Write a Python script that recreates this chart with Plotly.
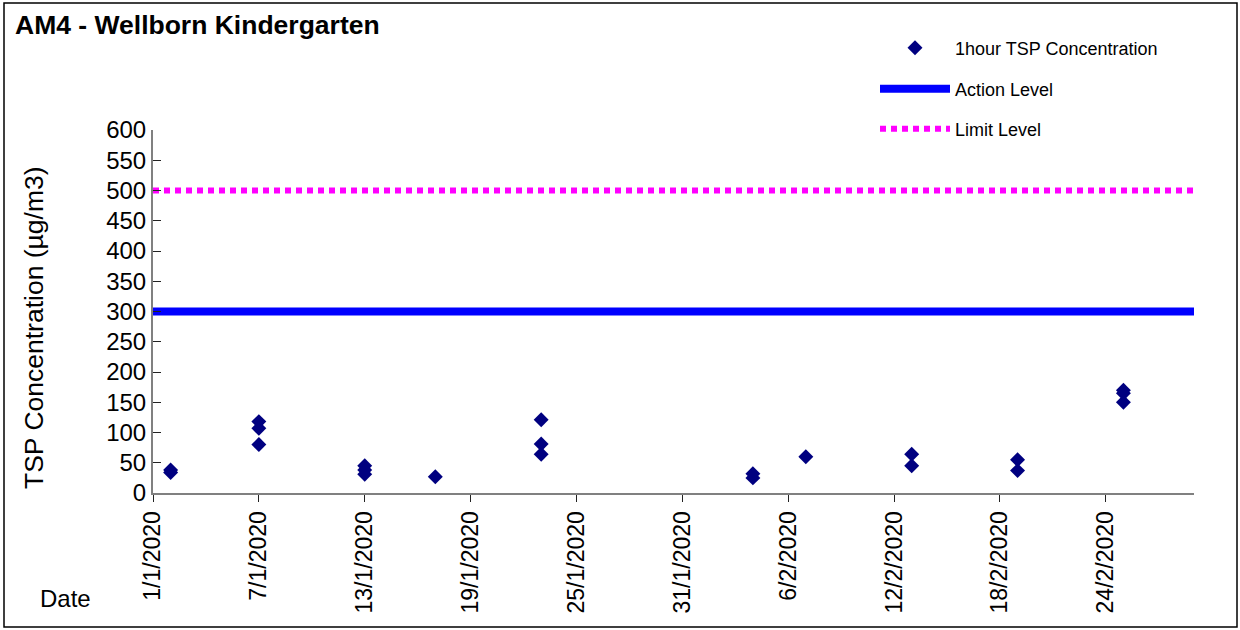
import plotly.graph_objects as go

# 1 hour TSP readings at AM4 (date, value in ug/m3)
sample_dates = [
    "2020-01-02", "2020-01-02",
    "2020-01-07", "2020-01-07", "2020-01-07",
    "2020-01-13", "2020-01-13", "2020-01-13",
    "2020-01-17",
    "2020-01-23", "2020-01-23", "2020-01-23",
    "2020-02-04", "2020-02-04",
    "2020-02-07",
    "2020-02-13", "2020-02-13",
    "2020-02-19", "2020-02-19",
    "2020-02-25", "2020-02-25", "2020-02-25",
]
tsp_values = [
    34, 38,
    118, 107, 80,
    45, 38, 31,
    27,
    121, 81, 64,
    32, 25,
    60,
    64, 45,
    55, 37,
    170, 165, 150,
]

# Level lines span the whole period
period = ["2020-01-01", "2020-02-29"]
action_level = [300, 300]
limit_level = [500, 500]

font_name = "Arial, Liberation Sans, sans-serif"

fig = go.Figure()

fig.add_trace(go.Scatter(
    x=sample_dates, y=tsp_values, mode="markers",
    name="1hour TSP Concentration",
    marker=dict(symbol="diamond", size=11.5, color="#000080"),
    legend="legend",
))
fig.add_trace(go.Scatter(
    x=period, y=action_level, mode="lines",
    name="Action Level",
    line=dict(color="#0000FF", width=8),
    legend="legend2",
))
fig.add_trace(go.Scatter(
    x=period, y=limit_level, mode="lines",
    name="Limit Level",
    line=dict(color="#FF00FF", width=6, dash="6px,5px"),
    legend="legend3",
))

# Plot area is 153..1194 px wide, 130..493 px tall
def px_x(p):
    return (p - 153) / 1041.0

def px_y(p):
    return (493 - p) / 363.0

legend_style = dict(
    xanchor="left", yanchor="middle", x=px_x(875),
    font=dict(family=font_name, size=18, color="black"),
    bgcolor="rgba(0,0,0,0)", borderwidth=0, itemwidth=70,
)

fig.update_layout(
    width=1240, height=630,
    margin=dict(l=153, r=46, t=130, b=137),
    paper_bgcolor="white", plot_bgcolor="white",
    font=dict(family=font_name, color="black"),
    showlegend=True,
    title=dict(
        text="<b>AM4 - Wellborn Kindergarten</b>",
        font=dict(family=font_name, size=26.5, color="black"),
        xref="container", yref="container",
        x=15 / 1240, xanchor="left", y=1 - 25 / 630, yanchor="middle",
    ),
    legend=dict(legend_style, y=px_y(48), visible=True),
    legend2=dict(legend_style, y=px_y(89), visible=True),
    legend3=dict(legend_style, y=px_y(129), visible=True),
    xaxis=dict(
        type="date", range=period,
        tick0="2020-01-01", dtick=6 * 24 * 3600 * 1000,
        tickformat="%-d/%-m/%Y", tickangle=-90,
        tickfont=dict(family=font_name, size=23, color="black"),
        ticks="outside", ticklen=7, tickcolor="#222",
        showline=True, linecolor="#808080", linewidth=2,
        showgrid=False, zeroline=False,
    ),
    yaxis=dict(
        range=[0, 600], dtick=50,
        tickfont=dict(family=font_name, size=24, color="black"),
        ticks="inside", ticklen=8, tickcolor="#222",
        showline=True, linecolor="#808080", linewidth=2,
        showgrid=False, zeroline=False,
    ),
    annotations=[
        dict(text="TSP Concentration (µg/m3)", textangle=-90,
             xref="paper", yref="paper", x=px_x(34), y=px_y(328),
             xanchor="center", yanchor="middle", showarrow=False,
             font=dict(family=font_name, size=26.5, color="black")),
        dict(text="Date",
             xref="paper", yref="paper", x=px_x(65), y=px_y(598),
             xanchor="center", yanchor="middle", showarrow=False,
             font=dict(family=font_name, size=24, color="black")),
    ],
    shapes=[
        # outer chart border
        dict(type="rect", xref="paper", yref="paper",
             x0=px_x(4), x1=px_x(1237), y0=px_y(627), y1=px_y(3),
             line=dict(color="black", width=1.5), layer="below"),
    ],
)

# drop the default page margin so the chart sits at the window corner
fig.write_html("out.html", config={"displayModeBar": False},
               post_script="document.body.style.margin='0';")
